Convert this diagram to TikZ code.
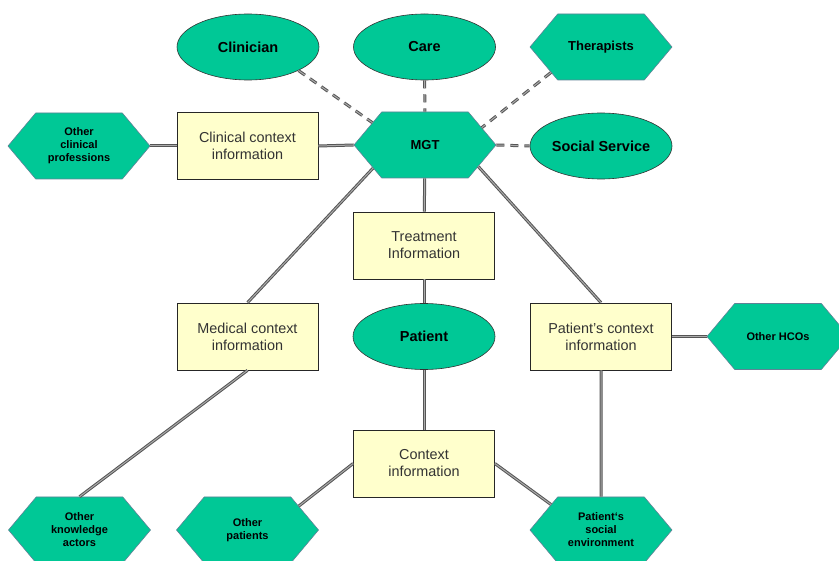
\documentclass[tikz,border=0pt]{standalone}
\usepackage{fontspec}
\setmainfont{Liberation Sans}
\usetikzlibrary{shapes.geometric,shapes.symbols}
\definecolor{hexgreen}{RGB}{0,200,150}
\definecolor{boxyellow}{RGB}{255,255,204}
\definecolor{hexedge}{RGB}{95,130,150}
\definecolor{linegray}{RGB}{85,85,85}
\definecolor{linecore}{RGB}{170,170,170}
\begin{document}
\begin{tikzpicture}[x=1pt,y=-1pt,
  ell/.style={ellipse, draw=black!80, line width=0.6pt, fill=hexgreen, minimum width=142pt, minimum height=66pt, inner sep=0pt,
    font=\bfseries\fontsize{14.5}{17}\selectfont},
  hex/.style={signal, signal to=west and east, signal pointer angle=100, draw=hexedge, line width=0.6pt, fill=hexgreen,
    minimum width=142pt, minimum height=66pt, inner sep=0pt, align=center,
    font=\bfseries\fontsize{11}{13}\selectfont},
  bighex/.style={hex, font=\bfseries\fontsize{13}{15}\selectfont},
  infobox/.style={rectangle, draw=black!85, line width=0.7pt, fill=boxyellow, minimum width=141pt, minimum height=67pt,
    inner sep=0pt, align=center, text=black!80, font=\fontsize{14.4}{17}\selectfont},
  link/.style={draw=linegray, line width=1pt, double=linecore, double distance=1pt},
  dlink/.style={link, dash pattern=on 8pt off 6pt}]
\useasboundingbox (0,0) rectangle (839,561);
% nodes
\node[ell] (clin) at (248,47) {Clinician};
\node[ell] (care) at (424.5,47) {Care};
\node[bighex] (ther) at (601,47) {Therapists};
\node[bighex] (mgt) at (425,145) {MGT};
\node[ell] (soc) at (601,146) {Social Service};
\node[hex] (ocp) at (79,146) {Other\\clinical\\professions};
\node[infobox] (cci) at (247.5,146) {Clinical context\\information};
\node[infobox] (ti) at (424,245.5) {Treatment\\Information};
\node[infobox] (mci) at (247.5,336.5) {Medical context\\information};
\node[ell] (pat) at (424,336.5) {Patient};
\node[infobox] (pci) at (601,336.5) {Patient’s context\\information};
\node[hex] (hco) at (778,336.5) {Other HCOs};
\node[infobox] (ci) at (424,463.5) {Context\\information};
\node[hex] (oka) at (79.5,530) {Other\\knowledge\\actors};
\node[hex] (op) at (247.5,530) {Other\\patients};
\node[hex] (pse) at (601,530) {Patient‘s\\social\\environment};
% connectors
\draw[dlink] (clin.-25) -- (mgt.157);
\draw[dlink] (care) -- (mgt);
\draw[dlink] (ther.-153) -- (mgt.17);
\draw[dlink] (mgt.east) -- (soc.west);
\draw[link] (ocp.east) -- (cci.west);
\draw[link] (cci.east) -- (mgt.west);
\draw[link] (mgt.-156.5) -- (mci.north);
\draw[link] (mgt) -- (ti);
\draw[link] (mgt.-22.7) -- (pci.north);
\draw[link] (ti) -- (pat);
\draw[link] (pat) -- (ci);
\draw[link] (mci.south) -- (oka.north);
\draw[link] (ci.west) -- (op.25);
\draw[link] (ci.east) -- (pse.153);
\draw[link] (pci) -- (pse);
\draw[link] (pci.east) -- (hco.west);
\end{tikzpicture}
\end{document}
